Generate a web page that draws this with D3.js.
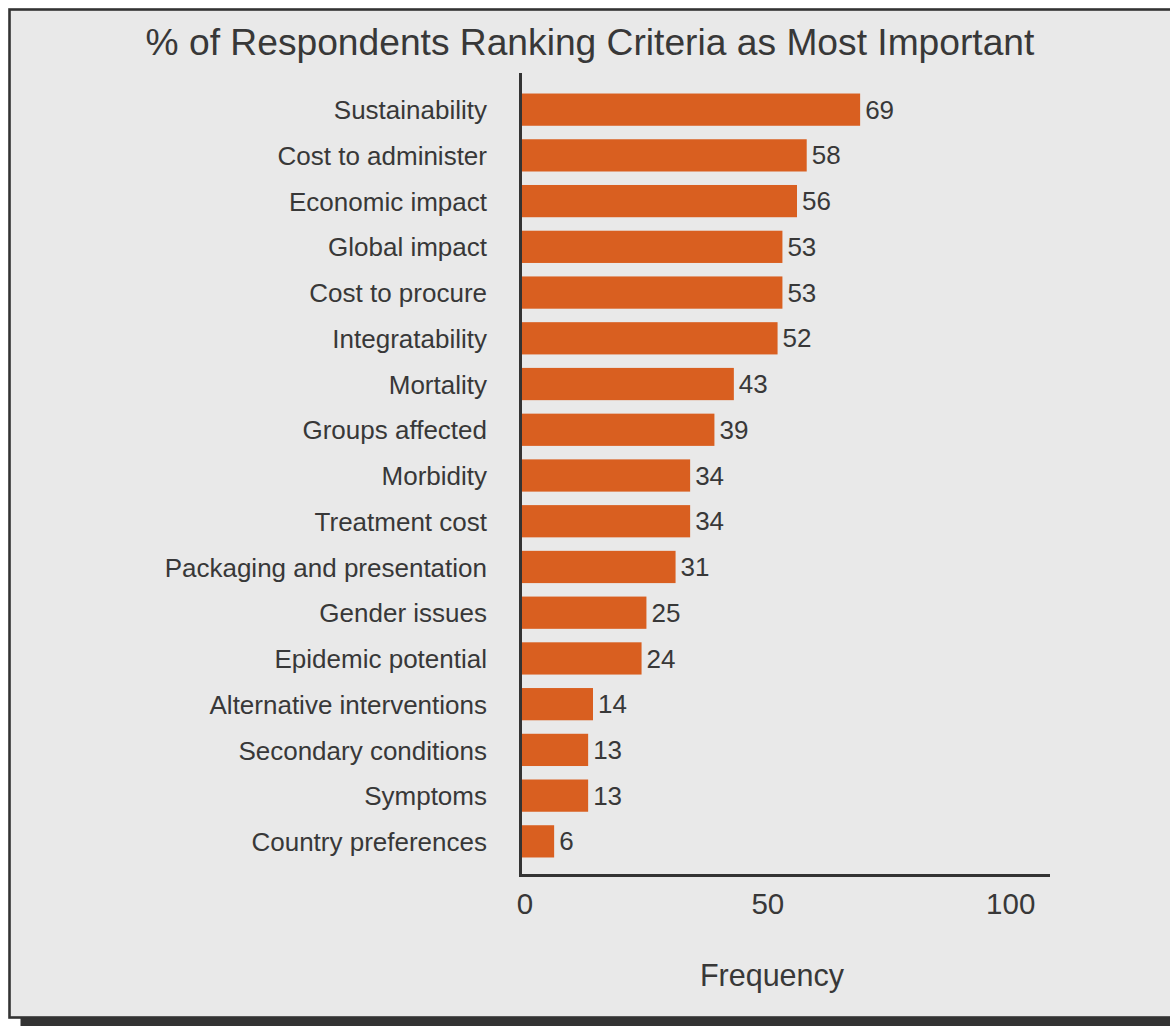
<!DOCTYPE html>
<html>
<head>
<meta charset="utf-8">
<script src="https://cdn.jsdelivr.net/npm/d3@7"></script>
<style>
  html, body { margin: 0; padding: 0; background: #ffffff; }
  svg { display: block; }
  text { font-family: "Liberation Sans", Arial, Helvetica, sans-serif; fill: #383838; }
</style>
</head>
<body>
<script>
// ---- data ----
const categories = [
  "Sustainability", "Cost to administer", "Economic impact", "Global impact",
  "Cost to procure", "Integratability", "Mortality", "Groups affected",
  "Morbidity", "Treatment cost", "Packaging and presentation", "Gender issues",
  "Epidemic potential", "Alternative interventions", "Secondary conditions",
  "Symptoms", "Country preferences"
];
const values = [69, 58, 56, 53, 53, 52, 43, 39, 34, 34, 31, 25, 24, 14, 13, 13, 6];
const xTicks = [0, 50, 100];
const titleText = "% of Respondents Ranking Criteria as Most Important";
const xAxisTitle = "Frequency";

// ---- layout ----
const W = 1170, H = 1026;
const svg = d3.select("body").append("svg").attr("width", W).attr("height", H);

// shadow + frame
svg.append("rect").attr("x", 20.5).attr("y", 18).attr("width", 1300).attr("height", 1010)
  .attr("fill", "#333333");
svg.append("rect").attr("x", 9.5).attr("y", 9.5).attr("width", 1300).attr("height", 1008)
  .attr("fill", "#e9e9e9").attr("stroke", "#333333").attr("stroke-width", 2.6);

const axisX = 520.5;
const axisTop = 73, axisBottom = 875.5, axisRight = 1050;

const x = d3.scaleLinear().domain([0, 100]).range([525, 1010.7]);
const y = d3.scaleBand().domain(categories).range([75, 876])
  .paddingInner(0.295).paddingOuter(0.405);

const data = categories.map((c, i) => ({ c, v: values[i] }));

// title
svg.append("text").attr("x", 590).attr("y", 55).attr("text-anchor", "middle")
  .attr("font-size", 37.2).text(titleText);

// bars
svg.append("g").selectAll("rect").data(data).join("rect")
  .attr("x", axisX)
  .attr("y", d => y(d.c))
  .attr("width", d => x(d.v) - axisX)
  .attr("height", y.bandwidth())
  .attr("fill", "#d95f20");

// value labels
svg.append("g").selectAll("text").data(data).join("text")
  .attr("x", d => x(d.v) + 5)
  .attr("y", d => y(d.c) + y.bandwidth() / 2)
  .attr("dy", "0.35em")
  .attr("font-size", 26)
  .text(d => d.v);

// category labels
svg.append("g").selectAll("text").data(data).join("text")
  .attr("x", 487)
  .attr("y", d => y(d.c) + y.bandwidth() / 2)
  .attr("dy", "0.37em")
  .attr("text-anchor", "end")
  .attr("font-size", 26)
  .text(d => d.c);

// axes lines
svg.append("line").attr("x1", axisX).attr("x2", axisX).attr("y1", axisTop).attr("y2", axisBottom + 1.5)
  .attr("stroke", "#333333").attr("stroke-width", 3);
svg.append("line").attr("x1", axisX - 1.5).attr("x2", axisRight).attr("y1", axisBottom).attr("y2", axisBottom)
  .attr("stroke", "#333333").attr("stroke-width", 3);

// x tick labels
svg.append("g").selectAll("text").data(xTicks).join("text")
  .attr("x", d => x(d))
  .attr("y", 914)
  .attr("text-anchor", "middle")
  .attr("font-size", 29.5)
  .text(d => d);

// x axis title
svg.append("text").attr("x", 772).attr("y", 986).attr("text-anchor", "middle")
  .attr("font-size", 30.5).text(xAxisTitle);
</script>
</body>
</html>
